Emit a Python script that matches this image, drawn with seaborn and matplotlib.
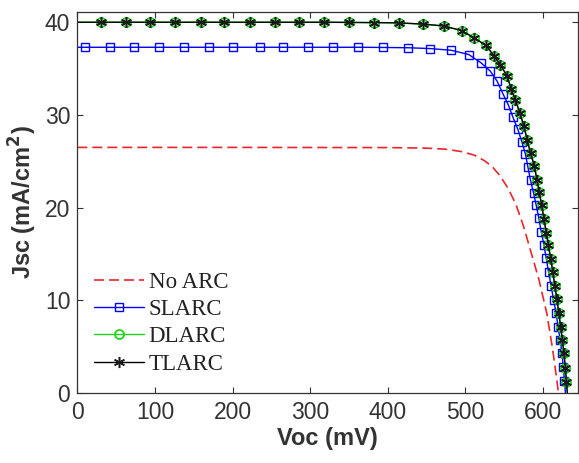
#!/usr/bin/env python3
# J-V curves of solar cells with different anti-reflection coatings

import pandas as pd
import numpy as np
import matplotlib
matplotlib.use('Agg')
import matplotlib.pyplot as plt
import seaborn as sns
from matplotlib.lines import Line2D

# Data (Voc in mV, Jsc in mA/cm^2)
no_arc_v = [0, 200, 400, 450, 475, 495, 512, 525, 535, 545, 555, 565, 575, 585,
            595, 605, 612, 617, 620]
no_arc_j = [26.5, 26.5, 26.48, 26.42, 26.3, 26.05, 25.65, 25.05, 24.4, 23.4, 22.1,
            20.4, 18.0, 15.1, 12.2, 8.6, 5.0, 2.0, 0.0]

slarc_v = [0, 9.9, 42.2, 73.3, 105.6, 137.9, 169.3, 200.8, 234.8, 265.4, 297.2,
           330.0, 361.8, 393.3, 425.6, 454.8, 481.5, 504.4, 520.3, 532.3, 541.0,
           548.3, 555.6, 561.2, 567.7, 572.9, 577.5, 580.6, 584.0, 587.9, 591.3,
           594.8, 597.8, 601.3, 604.3, 607.2, 610.7, 613.7, 617.2, 619.4, 622.4,
           624.5, 626.3, 627.8, 629.0]
slarc_j = [37.3, 37.3, 37.3, 37.3, 37.3, 37.3, 37.3, 37.3, 37.3, 37.3, 37.3,
           37.3, 37.3, 37.28, 37.25, 37.16, 36.98, 36.52, 35.62, 34.72, 33.64,
           32.31, 31.05, 29.79, 28.46, 27.09, 25.77, 24.4, 22.97, 21.6, 20.27,
           18.84, 17.4, 15.96, 14.53, 13.08, 11.54, 10.03, 8.59, 7.15, 5.71,
           4.27, 2.8, 1.3, 0.0]

tlarc_v = [0, 30.2, 63.3, 93.9, 126.2, 159.4, 189.5, 222.2, 255.4, 285.5, 317.8,
           350.1, 382.4, 414.7, 445.0, 472.0, 495.3, 511.6, 526.7, 536.7, 545.2,
           553.9, 559.0, 564.6, 570.3, 575.5, 579.7, 584.0, 589.0, 592.3, 595.3,
           598.3, 601.3, 604.3, 607.1, 609.9, 612.7, 615.4, 618.0, 620.5, 622.9,
           625.1, 627.1, 628.9, 630.3, 631.5]
tlarc_j = [40.0, 40.0, 40.0, 40.0, 40.0, 40.0, 40.0, 40.0, 40.0, 40.0, 40.0,
           39.98, 39.96, 39.93, 39.8, 39.6, 39.1, 38.3, 37.5, 36.4, 35.4, 34.2,
           32.8, 31.6, 30.2, 28.8, 27.3, 25.9, 24.5, 23.0, 21.7, 20.3, 18.8,
           17.3, 16.0, 14.5, 13.1, 11.5, 10.1, 8.6, 7.1, 5.7, 4.3, 2.7, 1.2, 0.0]

# DLARC lies on top of TLARC in the reference
dlarc_v = list(tlarc_v)
dlarc_j = list(tlarc_j)

labels = ['No ARC', 'SLARC', 'DLARC', 'TLARC']
colors = ['#e8262e', '#0000ff', '#1fd31f', '#000000']
star = (6, 2, 0)
dash = (0, (6, 3))

sns.set_theme(style='white')
plt.rcParams['font.family'] = ['Liberation Sans', 'DejaVu Sans']
plt.rcParams['xtick.direction'] = 'in'
plt.rcParams['ytick.direction'] = 'in'

fig = plt.figure(figsize=(5.79, 4.63), dpi=100)
ax = fig.add_axes([0.1335, 0.151, 0.8645, 0.823])

df_no = pd.DataFrame({'v': no_arc_v, 'j': no_arc_j})
df_sl = pd.DataFrame({'v': slarc_v, 'j': slarc_j})
df_dl = pd.DataFrame({'v': dlarc_v, 'j': dlarc_j})
df_tl = pd.DataFrame({'v': tlarc_v, 'j': tlarc_j})

sns.lineplot(data=df_no, x='v', y='j', sort=False, ax=ax, color=colors[0],
             linestyle=dash, linewidth=1.2)
sns.lineplot(data=df_sl, x='v', y='j', sort=False, ax=ax, color=colors[1],
             linewidth=1.0, marker='s', markersize=5.5, markerfacecolor='none',
             markeredgecolor=colors[1], markeredgewidth=1.0,
             markevery=list(range(1, len(slarc_v) - 1)))
sns.lineplot(data=df_dl, x='v', y='j', sort=False, ax=ax, color=colors[2],
             linewidth=1.0, marker='o', markersize=6.5, markerfacecolor='none',
             markeredgecolor=colors[2], markeredgewidth=1.3,
             markevery=list(range(1, len(dlarc_v) - 1)))
sns.lineplot(data=df_tl, x='v', y='j', sort=False, ax=ax, color=colors[3],
             linewidth=1.0, marker=star, markersize=8, markerfacecolor='k',
             markeredgecolor='k', markeredgewidth=1.1,
             markevery=list(range(1, len(tlarc_v) - 1)))

ax.set_xlim(0, 645)
ax.set_ylim(0, 41.1)
ax.set_xticks(np.arange(0, 700, 100))
ax.set_yticks(np.arange(0, 50, 10))

ax.tick_params(axis='both', which='both', direction='in', length=4, width=0.8,
               labelsize=16.5, labelcolor='#333333', color='#333333',
               top=True, right=True, bottom=True, left=True)
ax.tick_params(axis='x', pad=6)
ax.tick_params(axis='y', pad=5)
for s in ax.spines.values():
    s.set_color('#333333')
    s.set_linewidth(0.9)

ax.set_xlabel('Voc (mV)', fontsize=17, fontweight='bold', color='#333333', labelpad=2)
ax.set_ylabel('Jsc (mA/cm$^\\mathbf{2}$)', fontsize=17, fontweight='bold',
              color='#333333', labelpad=4)

# Legend handles with a single marker, like the reference
handles = [
    Line2D([], [], color=colors[0], linestyle=dash, linewidth=1.2),
    Line2D([], [], color=colors[1], linewidth=1.0, marker='s', markersize=5.5,
           markerfacecolor='none', markeredgecolor=colors[1]),
    Line2D([], [], color=colors[2], linewidth=1.0, marker='o', markersize=6.5,
           markerfacecolor='none', markeredgecolor=colors[2], markeredgewidth=1.3),
    Line2D([], [], color=colors[3], linewidth=1.0, marker=star, markersize=8,
           markerfacecolor='k', markeredgecolor='k', markeredgewidth=1.1),
]
leg = ax.legend(handles, labels, loc='upper left', bbox_to_anchor=(-0.013, 0.378),
                frameon=False, handlelength=2.2, handletextpad=0.2,
                labelspacing=0.27, borderaxespad=0.6, numpoints=1,
                prop={'family': ['Liberation Serif', 'DejaVu Serif'], 'size': 16.5})
for t in leg.get_texts():
    t.set_color('#222222')

fig.savefig('out.png', dpi=100)
